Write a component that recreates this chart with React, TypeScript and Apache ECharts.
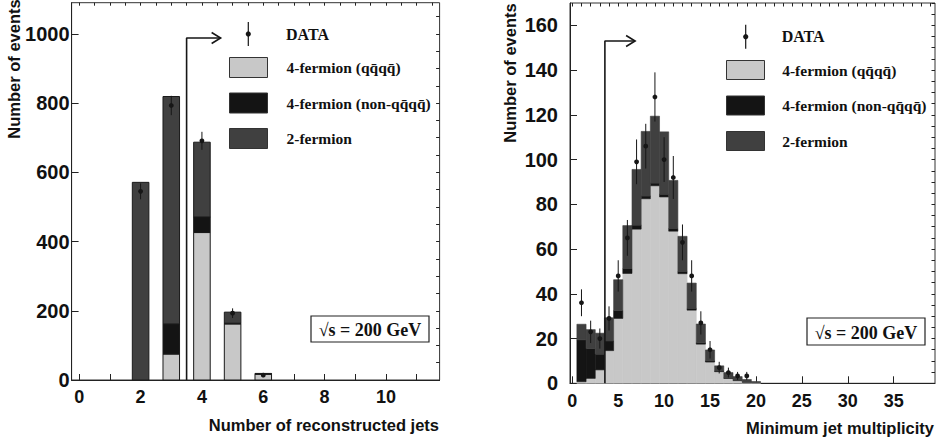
import React, { useEffect, useRef } from "react";
import * as echarts from "echarts";

const SANS = "Liberation Sans, Arial, Helvetica, sans-serif";
const SERIF = "Liberation Serif, Times New Roman, serif";

// ---------- Left panel: number of reconstructed jets ----------
const leftJets = [2, 3, 4, 5, 6];
const leftQQQQ = [0, 75, 426, 162, 17];
const leftNonQQQQ = [0, 87, 45, 2, 0.5];
const left2F = [571, 657, 216, 32, 1.5];
const leftData = [545, 793, 691, 193, 14];
const leftDataErr = [23, 28, 26, 14, 4];
const leftXLabels = [0, 2, 4, 6, 8, 10];
const leftYLabels = [0, 200, 400, 600, 800, 1000];
const leftCut = [[3.5, 0], [3.5, 988], [4.61, 988]];

// ---------- Right panel: minimum jet multiplicity ----------
const rightBins = [1, 2, 3, 4, 5, 6, 7, 8, 9, 10, 11, 12, 13, 14, 15, 16, 17, 18, 19, 20];
const rightQQQQ = [0.7, 2.2, 6, 14.6, 29, 49.1, 68.9, 82.5, 88.3, 83.3, 68, 49, 32.7, 17.5, 9.5, 5.2, 2.2, 1.2, 0.5, 0.2];
const rightNonQQQQ = [18.7, 13.3, 7, 4.3, 3.5, 2.2, 1.8, 1.2, 1.2, 1.2, 1.2, 1, 0.8, 0.6, 0.5, 0.3, 0.2, 0.1, 0.1, 0];
const right2F = [7, 8.5, 9.4, 10.4, 13.8, 19.2, 24.9, 28.9, 29.9, 27.9, 21.5, 15.7, 11.3, 8.4, 4.9, 2.3, 2.4, 1.7, 1.1, 0.6];
const rightDataBins = [1, 2, 3, 4, 5, 6, 7, 8, 9, 10, 11, 12, 13, 14, 15, 16, 17, 18, 19];
const rightData = [36, 23, 20, 29, 48, 65, 99, 106, 128, 100, 92, 63, 48, 27, 15, 7, 4.8, 3.3, 3.3];
const rightDataErr = [6, 5, 4.5, 5.4, 7, 8, 10, 10, 11, 10, 9.6, 8, 7, 5.2, 3.9, 2.6, 2.2, 1.8, 1.8];
const rightXLabels = [0, 5, 10, 15, 20, 25, 30, 35];
const rightYLabels = [0, 20, 40, 60, 80, 100, 120, 140, 160];
const rightCut = [[3.55, 0], [3.55, 153], [6.84, 153]];

const NAME_QQQQ = "4-fermion (qq\u0304qq\u0304)";
const NAME_NON = "4-fermion (non-qq\u0304qq\u0304)";
const NAME_2F = "2-fermion";

const C_QQQQ = "#c8c8c8";
const C_NON = "#141414";
const C_2F = "#404040";
const INK = "#161616";

function range(a: number, b: number, step: number) {
  const out: number[] = [];
  for (let v = a; v <= b + 1e-9; v += step) out.push(Math.round(v * 100) / 100);
  return out;
}

function stack(xs: number[], comps: number[][]) {
  const base = xs.map(() => 0);
  return comps.map((c) =>
    xs.map((x, i) => {
      const b = base[i];
      base[i] += c[i];
      return [x, b, base[i]];
    })
  );
}

function histSeries(name: string, data: number[][], axis: number, hw: number, fill: string, outlined: boolean) {
  return {
    type: "custom",
    name,
    xAxisIndex: axis,
    yAxisIndex: axis,
    z: 2,
    itemStyle: { color: fill },
    encode: { x: 0, y: [1, 2] },
    data,
    renderItem: (params: any, api: any) => {
      const x = api.value(0);
      const y0 = api.value(1);
      const y1 = api.value(2);
      if (!(y1 > y0)) return null;
      const p0 = api.coord([x - hw, y1]);
      const p1 = api.coord([x + hw, y0]);
      return {
        type: "rect",
        shape: { x: p0[0], y: p0[1], width: p1[0] - p0[0], height: p1[1] - p0[1] },
        style: outlined
          ? { fill, stroke: "#1a1a1a", lineWidth: 1 }
          : { fill, stroke: fill, lineWidth: 0.6 },
      };
    },
  };
}

function dataSeries(xs: number[], vals: number[], errs: number[], axis: number) {
  return {
    type: "custom",
    name: "DATA",
    xAxisIndex: axis,
    yAxisIndex: axis,
    z: 5,
    encode: { x: 0, y: 1 },
    data: xs.map((x, i) => [x, vals[i], errs[i]]),
    renderItem: (params: any, api: any) => {
      const x = api.value(0);
      const v = api.value(1);
      const e = api.value(2);
      const pc = api.coord([x, v]);
      const pl = api.coord([x, Math.max(0, v - e)]);
      const ph = api.coord([x, v + e]);
      return {
        type: "group",
        children: [
          { type: "line", shape: { x1: pc[0], y1: pl[1], x2: pc[0], y2: ph[1] }, style: { stroke: INK, lineWidth: 1 } },
          { type: "circle", shape: { cx: pc[0], cy: pc[1], r: 2.4 }, style: { fill: INK } },
        ],
      };
    },
  };
}

function cutSeries(pts: number[][], axis: number) {
  return [
    {
      type: "line",
      xAxisIndex: axis,
      yAxisIndex: axis,
      z: 4,
      data: pts,
      symbol: "none",
      silent: true,
      lineStyle: { color: INK, width: 1.6 },
    },
    {
      type: "custom",
      xAxisIndex: axis,
      yAxisIndex: axis,
      z: 4,
      silent: true,
      data: [pts[pts.length - 1]],
      renderItem: (params: any, api: any) => {
        const p = api.coord([api.value(0), api.value(1)]);
        return {
          type: "polyline",
          shape: { points: [[p[0] - 9, p[1] - 5.5], [p[0], p[1]], [p[0] - 9, p[1] + 5.5]] },
          style: { stroke: INK, lineWidth: 1.6, fill: "none" },
        };
      },
    },
  ];
}

function axisPair(gridIndex: number, min: number, max: number, labels: number[], majors: number[], minors: number[], margin: number, fontSize: number, majorLen: number, minorLen: number) {
  return [
    {
      gridIndex,
      type: "value",
      min,
      max,
      axisLine: { show: true, onZero: false, lineStyle: { color: "#222", width: 1 } },
      splitLine: { show: false },
      axisTick: { show: true, inside: true, length: majorLen, customValues: majors, lineStyle: { color: "#222", width: 1 } },
      axisLabel: { customValues: labels, margin, fontSize, fontWeight: "bold", color: "#111", fontFamily: SANS, formatter: (v: number) => String(v) },
    },
    {
      gridIndex,
      type: "value",
      min,
      max,
      axisLine: { show: false, onZero: false },
      splitLine: { show: false },
      axisTick: { show: true, inside: true, length: minorLen, customValues: minors, lineStyle: { color: "#222", width: 1 } },
      axisLabel: { show: false },
    },
  ];
}

function legendFor(left: number, top: number, itemHeight: number, itemGap: number, pad: number) {
  return {
    left,
    top,
    padding: 0,
    orient: "vertical",
    itemWidth: 38,
    itemHeight,
    itemGap,
    selectedMode: false,
    icon: "rect",
    textStyle: { fontFamily: SERIF, fontWeight: "bold", fontSize: 15.5, color: "#111", padding: [0, 0, 0, pad] },
    data: [
      { name: NAME_QQQQ, itemStyle: { color: C_QQQQ, borderColor: "#333", borderWidth: 1 } },
      { name: NAME_NON, itemStyle: { color: C_NON, borderColor: "#333", borderWidth: 1 } },
      { name: NAME_2F, itemStyle: { color: C_2F, borderColor: "#333", borderWidth: 1 } },
    ],
  };
}

function dataLegend(x: number, y: number, tx: number) {
  return [
    { type: "line", shape: { x1: x, y1: y - 12, x2: x, y2: y + 12 }, style: { stroke: INK, lineWidth: 1.2 } },
    { type: "circle", shape: { cx: x, cy: y, r: 2.6 }, style: { fill: INK } },
    { type: "text", x: tx, y, style: { text: "DATA", fontFamily: SERIF, fontWeight: "bold", fontSize: 16, fill: "#111", align: "left", verticalAlign: "middle" } },
  ];
}

function energyBox(x: number, y: number, w: number, h: number) {
  return [
    { type: "rect", z: 10, shape: { x, y, width: w, height: h }, style: { fill: "#fff", stroke: "#222", lineWidth: 1.2 } },
    { type: "text", z: 11, x: x + w / 2, y: y + h / 2 + 1, style: { text: "\u221As = 200 GeV", fontFamily: SERIF, fontWeight: "bold", fontSize: 18, fill: "#111", align: "center", verticalAlign: "middle" } },
  ];
}

export default function App() {
  const ref = useRef<HTMLDivElement>(null);
  useEffect(() => {
    if (!ref.current) return;
    const chart = echarts.init(ref.current, undefined, { renderer: "svg" });

    const [lQ, lN, l2] = stack(leftJets, [leftQQQQ, leftNonQQQQ, left2F]);
    const [rQ, rN, r2] = stack(rightBins, [rightQQQQ, rightNonQQQQ, right2F]);

    const lx = axisPair(0, -0.25, 11.75, leftXLabels, range(0, 11, 1), range(0, 11.5, 0.5), 8, 18, 6, 3);
    const rx = axisPair(1, -0.25, 39.5, rightXLabels, rightXLabels, range(0, 39, 1), 8.5, 18, 7, 3.5);
    const ly = axisPair(0, 0, 1090, leftYLabels, leftYLabels, range(0, 1050, 50), 2, 20, 7, 3.5);
    const ry = axisPair(1, 0, 170, rightYLabels, rightYLabels, range(0, 170, 5), 12, 20, 7, 3.5);

    const titleStyle = { fontFamily: SANS, fontWeight: "bold", fontSize: 16.5, fill: "#111" };

    chart.setOption({
      animation: false,
      backgroundColor: "#fff",
      grid: [
        { left: 71.6, right: 505.4, top: 2.7, bottom: 62, show: true, borderColor: "#333", borderWidth: 1, backgroundColor: "transparent" },
        { left: 570, right: 10, top: 3, bottom: 58.7, show: true, borderColor: "#333", borderWidth: 1, backgroundColor: "transparent" },
      ],
      xAxis: [...lx, ...rx],
      yAxis: [...ly, ...ry],
      legend: [legendFor(229, 57, 20, 14.5, 14), legendFor(726, 60, 19, 15.5, 12.7)],
      series: [
        histSeries(NAME_QQQQ, lQ, 0, 0.27, C_QQQQ, true),
        histSeries(NAME_NON, lN, 0, 0.27, C_NON, true),
        histSeries(NAME_2F, l2, 0, 0.27, C_2F, true),
        dataSeries(leftJets, leftData, leftDataErr, 0),
        ...cutSeries(leftCut, 0),
        histSeries(NAME_QQQQ, rQ, 2, 0.5, C_QQQQ, false),
        histSeries(NAME_NON, rN, 2, 0.5, C_NON, false),
        histSeries(NAME_2F, r2, 2, 0.5, C_2F, false),
        dataSeries(rightDataBins, rightData, rightDataErr, 2),
        ...cutSeries(rightCut, 2),
      ],
      graphic: [
        { type: "text", x: 13.5, y: 69, rotation: Math.PI / 2, style: { ...titleStyle, text: "Number of events", align: "center", verticalAlign: "middle" } },
        { type: "text", x: 510, y: 73, rotation: Math.PI / 2, style: { ...titleStyle, text: "Number of events", align: "center", verticalAlign: "middle" } },
        { type: "text", x: 439, y: 425, style: { ...titleStyle, text: "Number of reconstructed jets", align: "right", verticalAlign: "middle" } },
        { type: "text", x: 934, y: 427.5, style: { ...titleStyle, text: "Minimum jet multiplicity", align: "right", verticalAlign: "middle" } },
        ...dataLegend(248.3, 34, 286),
        ...dataLegend(745.7, 36.7, 781.7),
        ...energyBox(311, 316, 118, 26),
        ...energyBox(807, 318, 118, 27),
      ],
    });
    return () => chart.dispose();
  }, []);
  return <div ref={ref} style={{ position: "fixed", left: 0, top: 0, width: 945, height: 442 }} />;
}
